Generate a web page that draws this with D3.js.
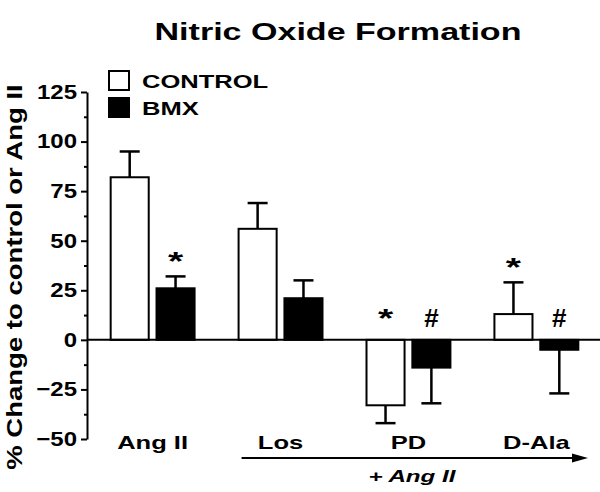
<!DOCTYPE html>
<html>
<head>
<meta charset="utf-8">
<script src="https://cdn.jsdelivr.net/npm/d3@7"></script>
<style>
  body { margin: 0; background: #fff; }
  svg text { font-family: Arial, "Liberation Sans", Helvetica, sans-serif; font-weight: bold; fill: #000; }
</style>
</head>
<body>
<svg id="chart"></svg>
<script>
// ---------------- data ----------------
const groups = ['Ang II', 'Los', 'PD', 'D-Ala'];
const series = ['CONTROL', 'BMX'];
const controlMean = [82, 56, -33, 13];
const controlErr  = [13, 13, 9, 16];
const bmxMean     = [26, 21, -14, -5];
const bmxErr      = [6, 9, 18, 22];
const controlMark = ['', '', '*', '*'];
const bmxMark     = ['*', '', '#', '#'];
const yTicks = [-50, -25, 0, 25, 50, 75, 100, 125];

// ---------------- setup ----------------
const width = 600, height = 492;
const svg = d3.select('#chart').attr('width', width).attr('height', height);

const rows = [];
groups.forEach((g, i) => {
  rows.push({group: g, series: 'CONTROL', mean: controlMean[i], err: controlErr[i], mark: controlMark[i]});
  rows.push({group: g, series: 'BMX', mean: bmxMean[i], err: bmxErr[i], mark: bmxMark[i]});
});

const y = d3.scaleLinear().domain([-50, 125]).range([439, 92]);
const x = d3.scaleBand().domain(groups).range([87, 602]).paddingInner(0.344).paddingOuter(0.185);
const xs = d3.scaleBand().domain(series).range([0, x.bandwidth()]).paddingInner(0.17);

// stretch text horizontally (the original lettering is wide)
function widen(sel, k) {
  sel.each(function() {
    const w = this.getComputedTextLength();
    d3.select(this).attr('textLength', w * k).attr('lengthAdjust', 'spacingAndGlyphs');
  });
}

// ---------------- title ----------------
svg.append('text')
  .attr('x', 338).attr('y', 40)
  .attr('text-anchor', 'middle')
  .style('font-size', '23px')
  .text('Nitric Oxide Formation')
  .call(widen, 1.48);

// ---------------- y axis ----------------
const yAxis = svg.append('g')
  .attr('transform', 'translate(87,0)')
  .call(d3.axisLeft(y).tickValues(yTicks).tickSize(6).tickSizeOuter(0).tickPadding(4));
yAxis.select('.domain').attr('stroke', '#000').attr('stroke-width', 2);
yAxis.selectAll('.tick line').attr('stroke', '#000').attr('stroke-width', 2);
yAxis.selectAll('.tick text')
  .style('font-size', '20px')
  .attr('font-family', null)
  .call(widen, 1.2);

// minor ticks
svg.append('g')
  .attr('transform', 'translate(87,0)')
  .call(d3.axisLeft(y).tickValues(yTicks.slice(0, -1).map(v => v + 12.5)).tickSize(3).tickSizeOuter(0).tickFormat(''))
  .call(g => g.select('.domain').remove())
  .selectAll('.tick line').attr('stroke', '#000').attr('stroke-width', 2);

svg.append('text')
  .attr('transform', 'translate(22,' + 277 + ') rotate(-90)')
  .attr('text-anchor', 'middle')
  .style('font-size', '22px')
  .text('% Change to control or Ang II')
  .call(widen, 1.25);

// ---------------- bars ----------------
const gBars = svg.append('g');
const barX = d => x(d.group) + xs(d.series);

gBars.selectAll('rect')
  .data(rows)
  .join('rect')
  .attr('x', barX)
  .attr('width', xs.bandwidth())
  .attr('y', d => y(Math.max(0, d.mean)))
  .attr('height', d => Math.abs(y(d.mean) - y(0)))
  .attr('fill', d => d.series === 'CONTROL' ? '#fff' : '#000')
  .attr('stroke', '#000')
  .attr('stroke-width', 2);

// error bars (drawn outward from the bar end)
const tip = d => d.mean >= 0 ? d.mean + d.err : d.mean - d.err;
const eb = gBars.selectAll('g.err')
  .data(rows)
  .join('g')
  .attr('class', 'err')
  .attr('transform', d => 'translate(' + (barX(d) + xs.bandwidth() / 2) + ',0)');
eb.append('line')
  .attr('x1', 0).attr('x2', 0)
  .attr('y1', d => y(d.mean)).attr('y2', d => y(tip(d)))
  .attr('stroke', '#000').attr('stroke-width', 2.5);
eb.append('line')
  .attr('x1', -10).attr('x2', 10)
  .attr('y1', d => y(tip(d))).attr('y2', d => y(tip(d)))
  .attr('stroke', '#000').attr('stroke-width', 2.5);

// zero line
svg.append('line')
  .attr('x1', 87).attr('x2', width)
  .attr('y1', y(0)).attr('y2', y(0))
  .attr('stroke', '#000').attr('stroke-width', 2);

// significance marks
gBars.selectAll('text.mark')
  .data(rows.filter(d => d.mark))
  .join('text')
  .attr('class', 'mark')
  .attr('x', d => barX(d) + xs.bandwidth() / 2)
  .attr('y', d => d.mean > 0 ? y(tip(d)) - 6 : y(0) - 13)
  .attr('text-anchor', 'middle')
  .style('font-size', d => d.mark === '*' ? '26px' : '26px')
  .text(d => d.mark)
  .each(function(d) {
    d3.select(this).call(widen, d.mark === '*' ? 1.5 : 1.0);
  });

// ---------------- x labels ----------------
svg.append('g').selectAll('text')
  .data(groups)
  .join('text')
  .attr('x', d => x(d) + x.bandwidth() / 2)
  .attr('y', 449)
  .attr('text-anchor', 'middle')
  .style('font-size', '18.5px')
  .text(d => d)
  .call(widen, 1.38);

// "+ Ang II" arrow
const arrowY = 458, arrowX0 = x('Los') + 3, arrowX1 = width - 12;
svg.append('line')
  .attr('x1', arrowX0).attr('x2', arrowX1 - 8)
  .attr('y1', arrowY).attr('y2', arrowY)
  .attr('stroke', '#000').attr('stroke-width', 2);
svg.append('path')
  .attr('d', 'M' + arrowX1 + ',' + arrowY + 'l-16,-4.5l0,9z')
  .attr('fill', '#000');
svg.append('text')
  .attr('x', 412).attr('y', 482)
  .attr('text-anchor', 'middle')
  .style('font-size', '17px')
  .style('font-style', 'italic')
  .text('+ Ang II')
  .call(widen, 1.42);

// ---------------- legend ----------------
const legend = svg.append('g').attr('transform', 'translate(109,71)');
const li = legend.selectAll('g')
  .data(series)
  .join('g')
  .attr('transform', (d, i) => 'translate(0,' + i * 27 + ')');
li.append('rect')
  .attr('width', 20).attr('height', 19)
  .attr('fill', d => d === 'CONTROL' ? '#fff' : '#000')
  .attr('stroke', '#000').attr('stroke-width', 2);
li.append('text')
  .attr('x', 33).attr('y', 17)
  .style('font-size', '18.5px')
  .text(d => d)
  .call(widen, 1.38);
</script>
</body>
</html>
